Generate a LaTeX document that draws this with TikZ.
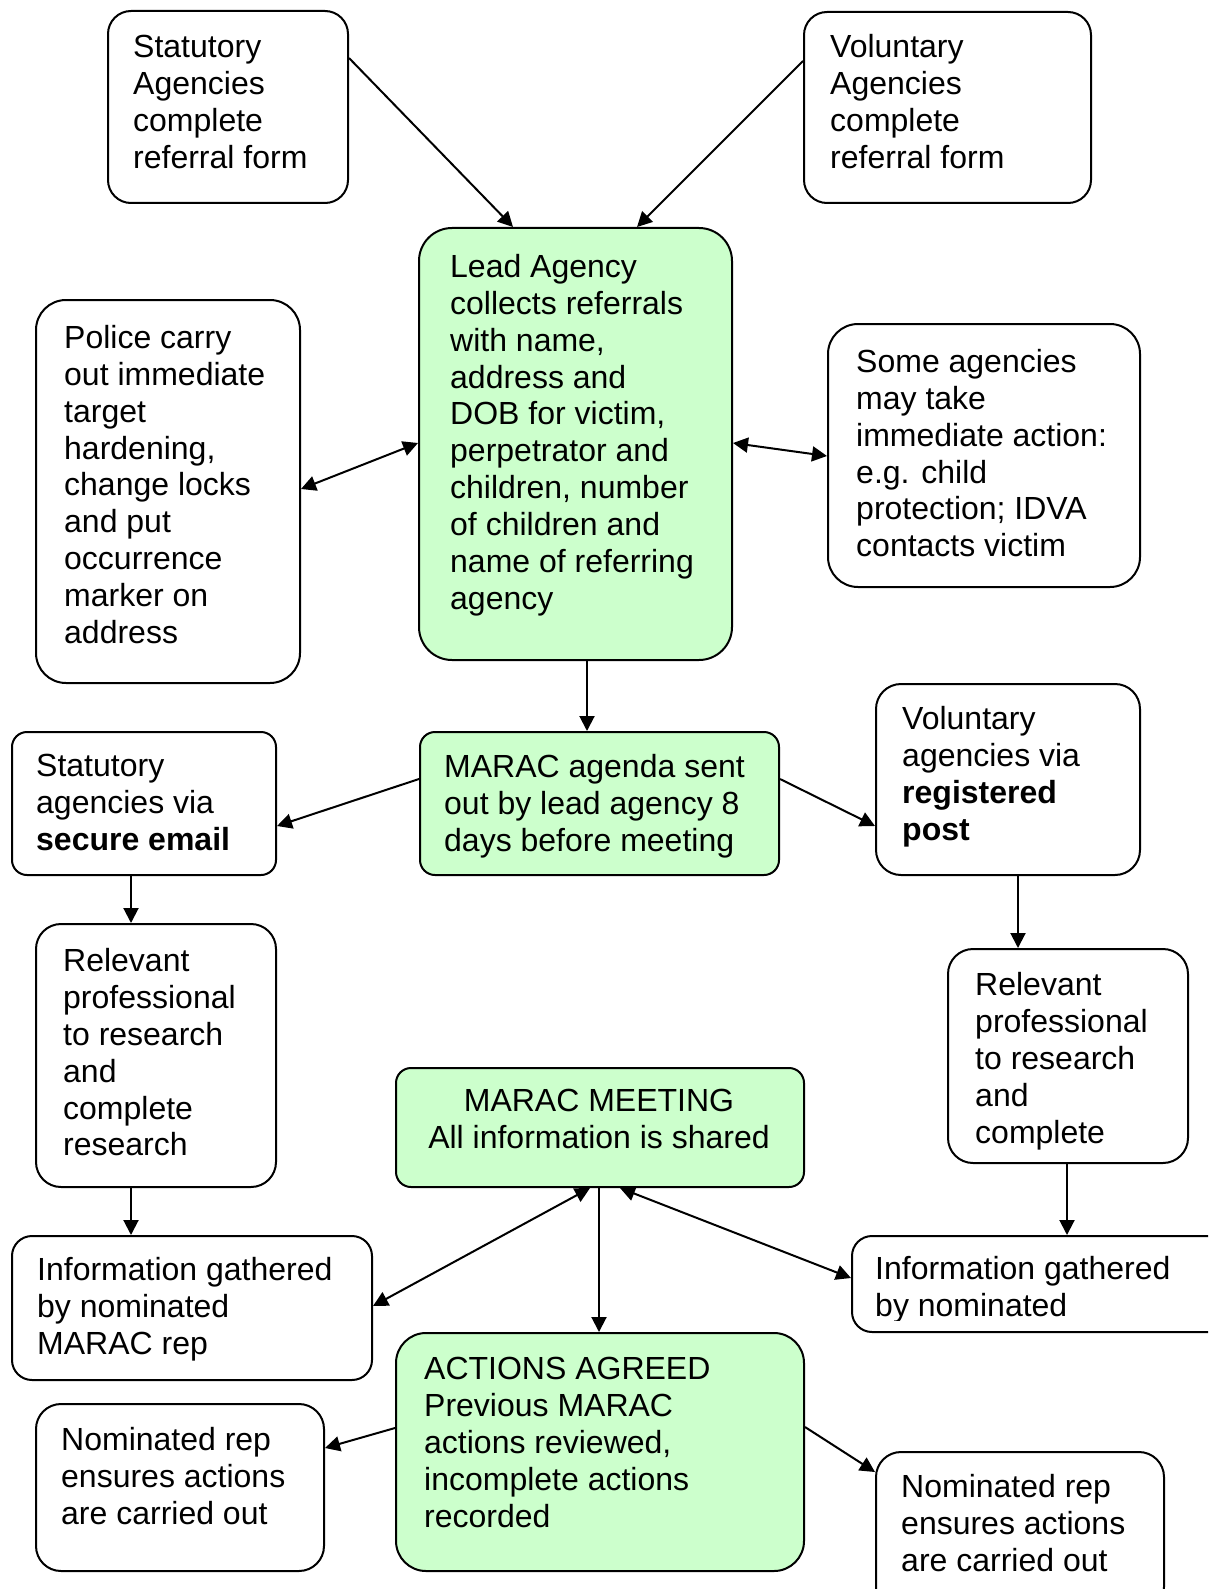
\documentclass[tikz,border=0pt]{standalone}
\usepackage{fontspec}
\setmainfont{Liberation Sans}
\usetikzlibrary{arrows.meta,calc}
\definecolor{lgreen}{HTML}{CCFFCC}
\newcommand\diagfont{\fontsize{32}{36.9}\selectfont}
\tikzset{
  box/.style={draw, line width=2pt, rounded corners=#1, inner sep=0pt, anchor=north west, fill=white},
  gbox/.style={box=#1, fill=lgreen},
  txt/.style={anchor=north west, inner sep=0pt, align=left, font=\diagfont},
  arr/.style={line width=2pt, -{Triangle[length=15pt,width=15pt]}},
  darr/.style={line width=2pt, {Triangle[length=15pt,width=15pt]}-{Triangle[length=15pt,width=15pt]}},
}
\begin{document}
\begin{tikzpicture}[x=1pt,y=-1pt]
\useasboundingbox (0,0) rectangle (1208,1589);
\clip (0,0) rectangle (1208,1589);
\fill[white] (0,0) rectangle (1208,1589);

% boxes
\node[box=23, minimum width=240, minimum height=192] (stat) at (107,10) {};
\node[box=23, minimum width=287, minimum height=191] (vol) at (803,11) {};
\node[gbox=33, minimum width=313, minimum height=432] (lead) at (418,227) {};
\node[box=30, minimum width=264, minimum height=383] (police) at (35,299) {};
\node[box=30, minimum width=312, minimum height=263] (some) at (827,323) {};
\node[gbox=15, minimum width=359, minimum height=143] (agenda) at (419,731) {};
\node[box=15, minimum width=264, minimum height=143] (email) at (11,731) {};
\node[box=25, minimum width=264, minimum height=191] (post) at (875,683) {};
\node[box=25, minimum width=240, minimum height=263] (relL) at (35,923) {};
\node[box=25, minimum width=240, minimum height=214] (relR) at (947,948) {};
\node[gbox=15, minimum width=408, minimum height=119] (meet) at (395,1067) {};
\node[box=20, minimum width=360, minimum height=144] (infoL) at (11,1235) {};
\node[box=20, minimum width=380, minimum height=96] (infoR) at (851,1235) {};
\node[gbox=30, minimum width=408, minimum height=238] (actions) at (395,1332) {};
\node[box=25, minimum width=288, minimum height=167] (nomL) at (35,1403) {};
\node[box=25, minimum width=288, minimum height=160] (nomR) at (875,1451) {};

% texts
\node[txt] (statT) at (133,35) {Statutory\\Agencies\\complete\\referral form};
\node[txt] (volT) at (830,34) {Voluntary\\Agencies\\complete\\referral form};
\node[txt] (leadT) at (450,254) {Lead Agency\\collects referrals\\with name,\\address and\\DOB for victim,\\perpetrator and\\children, number\\of children and\\name of referring\\agency};
\node[txt] (policeT) at (64,325) {Police carry\\out immediate\\target\\hardening,\\change locks\\and put\\occurrence\\marker on\\address};
\node[txt] (someT) at (856,349) {Some agencies\\may take\\immediate action:\\e.g. child\\protection; IDVA\\contacts victim};
\node[txt] (agendaT) at (444,754) {MARAC agenda sent\\out by lead agency 8\\days before meeting};
\node[txt] (emailT) at (36,754) {Statutory\\agencies via\\\textbf{secure email}};
\node[txt] (postT) at (902,706) {Voluntary\\agencies via\\\textbf{registered}\\\textbf{post}};
\node[txt] (relLT) at (63,948) {Relevant\\professional\\to research\\and\\complete\\research};
\node[txt] (relRT) at (975,972) {Relevant\\professional\\to research\\and\\complete};
\node[txt, anchor=north, align=center] (meetT) at (599,1089) {MARAC MEETING\\All information is shared};
\node[txt] (infoLT) at (37,1257) {Information gathered\\by nominated\\MARAC rep};
\begin{scope}
\clip (851,1235) rectangle (1208,1320);
\node[txt] (infoRT) at (875,1256) {Information gathered\\by nominated};
\end{scope}
\node[txt] (actionsT) at (424,1357) {ACTIONS AGREED\\Previous MARAC\\actions reviewed,\\incomplete actions\\recorded};
\node[txt] (nomLT) at (61,1427) {Nominated rep\\ensures actions\\are carried out};
\node[txt] (nomRT) at (901,1474) {Nominated rep\\ensures actions\\are carried out};

% connectors
\draw[arr] ($(stat.north east)+(0,48)$) -- ($(lead.north west)+(95,0)$);
\draw[arr] ($(vol.north west)+(0,50)$) -- ($(lead.north west)+(219,0)$);
\draw[darr] ($(police.north east)+(0,190)$) -- ($(lead.north west)+(0,216)$);
\draw[darr] ($(lead.north east)+(0,216)$) -- ($(some.north west)+(0,133)$);
\draw[arr] ($(lead.south west)+(169,0)$) -- ($(agenda.north west)+(168,0)$);
\draw[arr] ($(agenda.north west)+(0,48)$) -- ($(email.north east)+(0,95)$);
\draw[arr] ($(agenda.north east)+(0,48)$) -- ($(post.north west)+(0,143)$);
\draw[arr] ($(email.south west)+(120,0)$) -- ($(relL.north west)+(96,0)$);
\draw[arr] ($(post.south west)+(143,0)$) -- ($(relR.north west)+(71,0)$);
\draw[arr] ($(relL.south west)+(96,0)$) -- ($(infoL.north west)+(120,0)$);
\draw[arr] ($(relR.south west)+(120,0)$) -- ($(infoR.north west)+(216,0)$);
\draw[darr] ($(meet.south west)+(195,0)$) -- ($(infoL.north east)+(0,71)$);
\draw[darr] ($(meet.south west)+(225,0)$) -- ($(infoR.north west)+(0,43)$);
\draw[arr] ($(meet.south west)+(204,0)$) -- ($(actions.north west)+(204,0)$);
\draw[arr] ($(actions.north west)+(0,96)$) -- ($(nomL.north east)+(0,45)$);
\draw[arr] ($(actions.north east)+(0,95)$) -- ($(nomR.north west)+(0,21)$);
\end{tikzpicture}
\end{document}
